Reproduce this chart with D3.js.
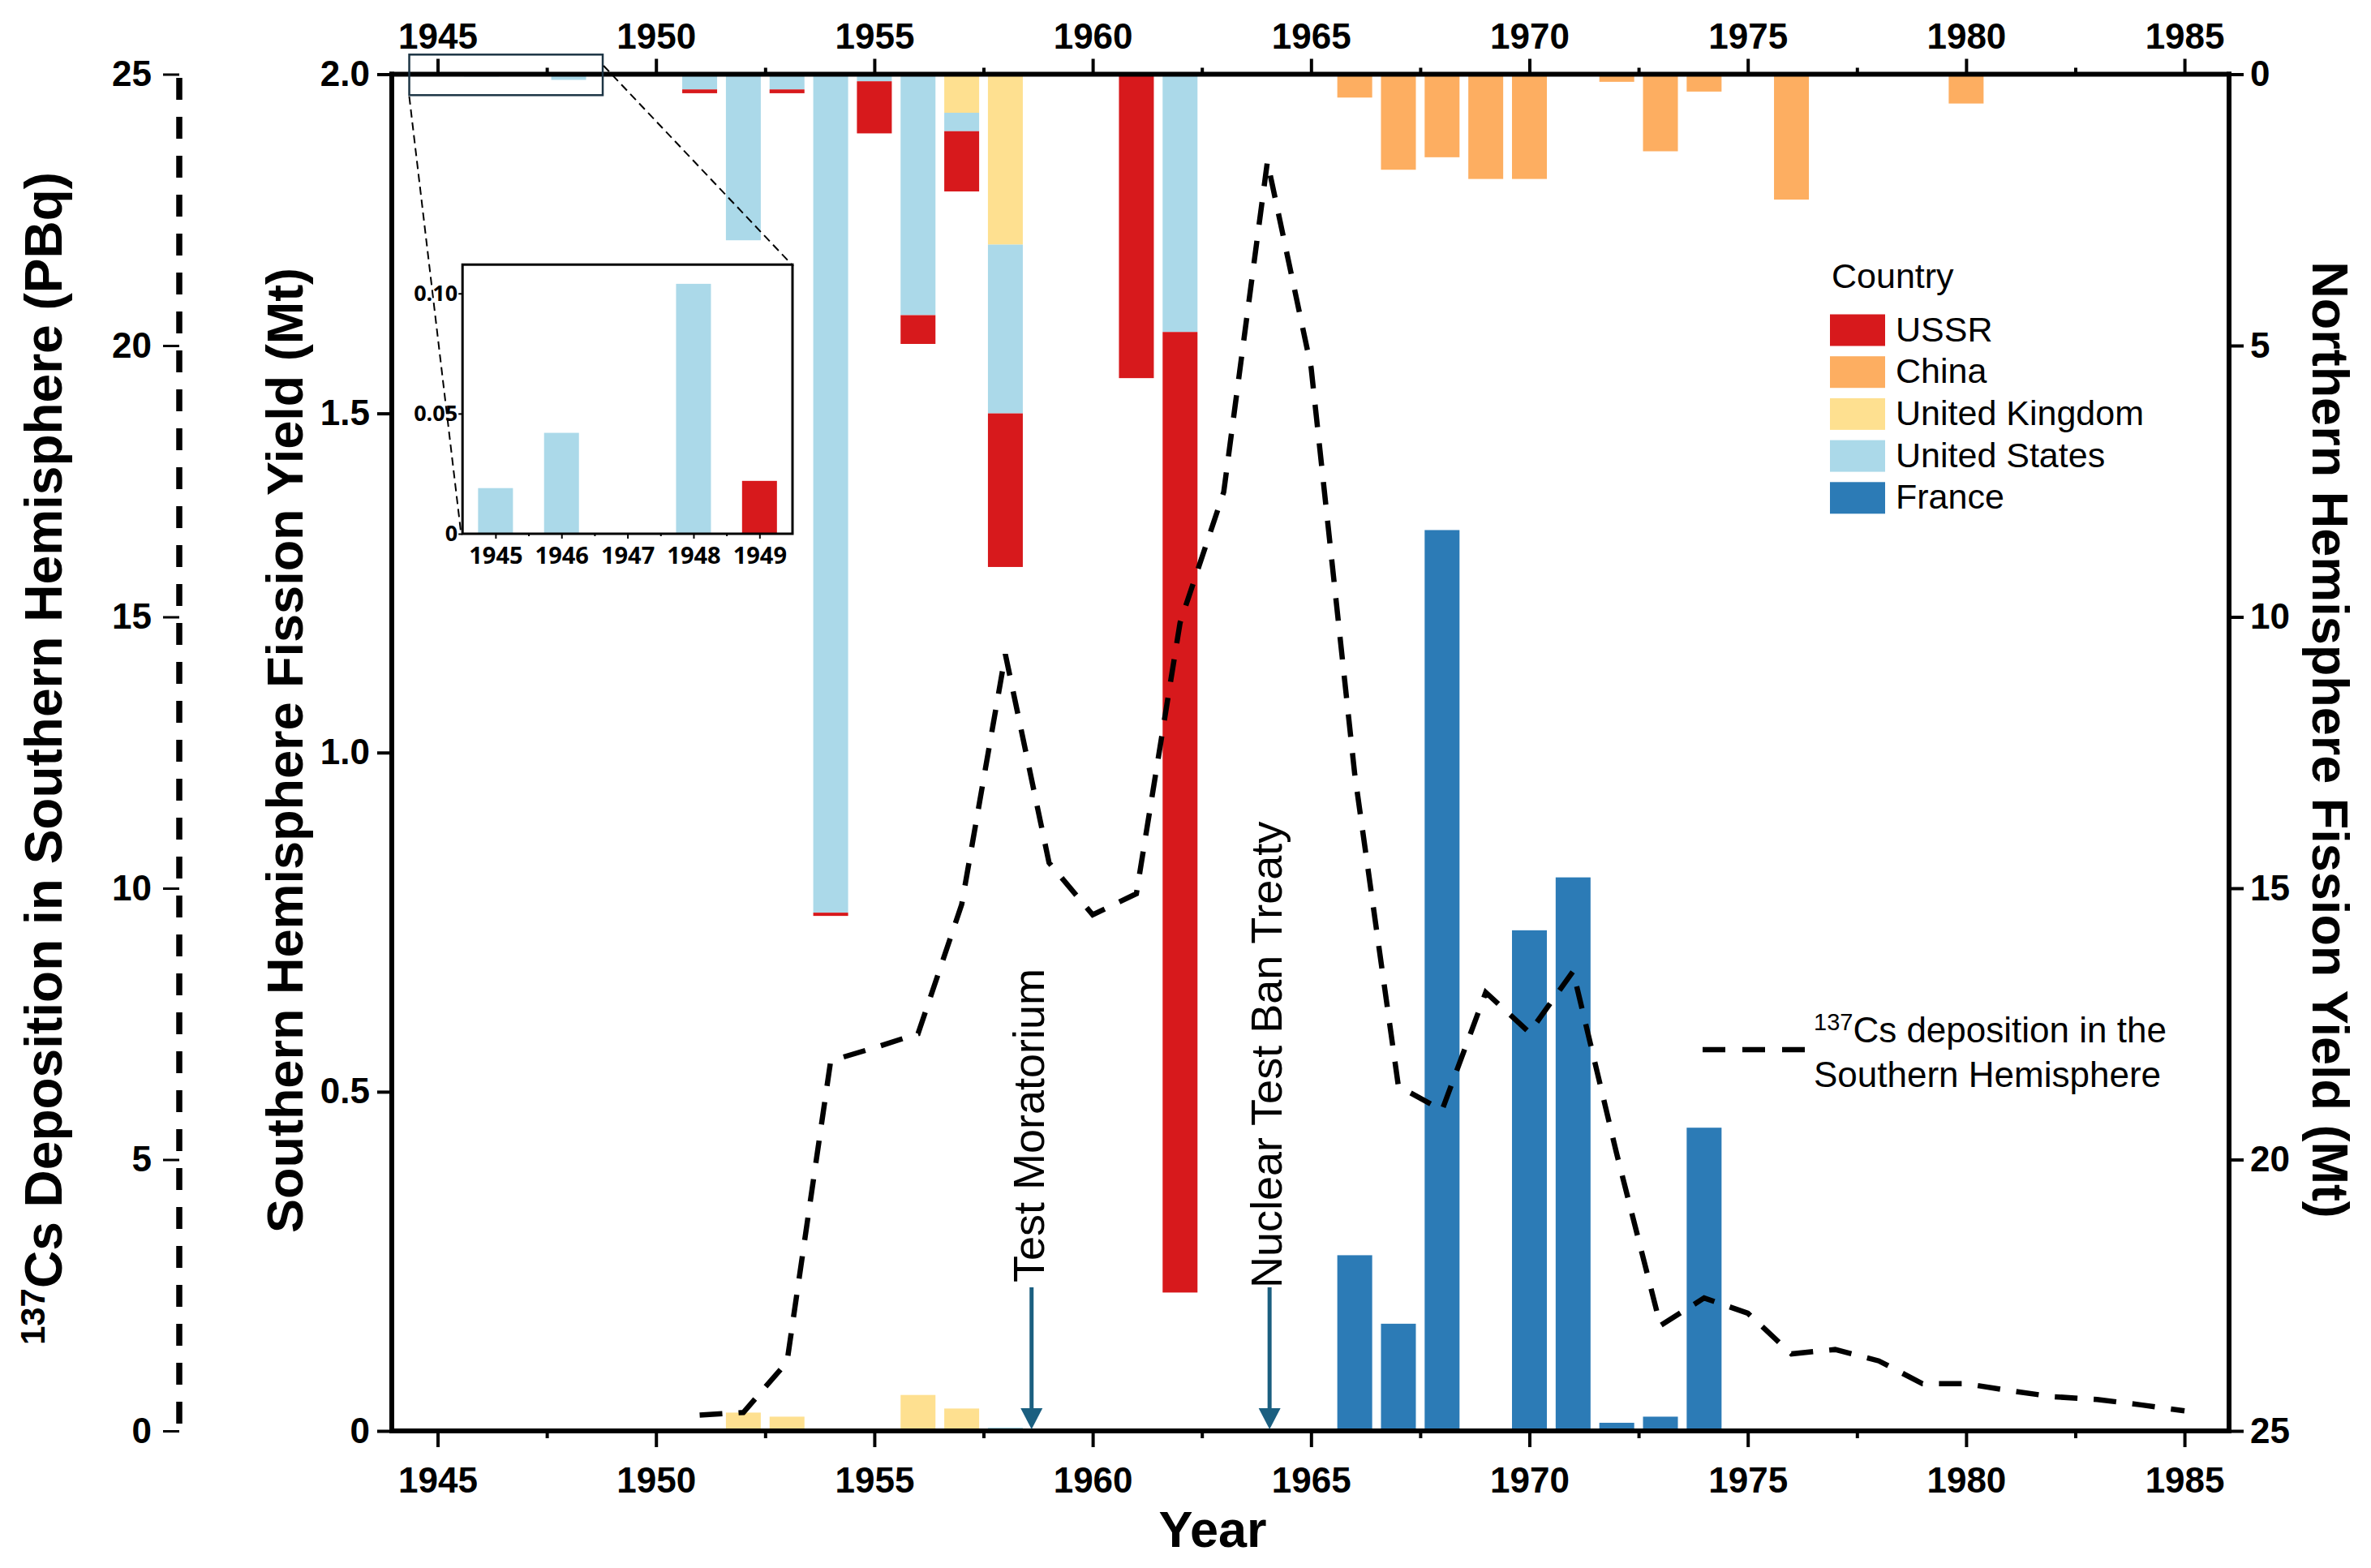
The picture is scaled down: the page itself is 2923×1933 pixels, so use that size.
<!DOCTYPE html>
<html><head><meta charset="utf-8">
<script src="https://cdn.jsdelivr.net/npm/d3@7"></script>
<style>html,body{margin:0;padding:0;background:#fff;} svg{display:block;}</style>
</head><body>
<svg id="chart" width="2923" height="1933"></svg>
<script>
// ---------------- DATA ----------------
const countries = ["USSR", "China", "United Kingdom", "United States", "France"];
const countryColors = ["#d7191c", "#fdae61", "#fee090", "#abd9e9", "#2c7bb6"];

// Northern hemisphere fission yield (Mt) per year
const northUK    = [[1957, 0.71], [1958, 3.14]];
const northUS    = [[1945, 0.019], [1946, 0.042], [1948, 0.104], [1951, 0.28], [1952, 3.06], [1953, 0.28],
                    [1954, 15.45], [1955, 0.13], [1956, 4.44], [1957, 0.34], [1958, 3.11], [1962, 4.75]];
const northUSSR  = [[1949, 0.022], [1951, 0.07], [1953, 0.07], [1954, 0.06], [1955, 0.96], [1956, 0.53],
                    [1957, 1.11], [1958, 2.83], [1961, 5.60], [1962, 17.7]];
const northChina = [[1966, 0.43], [1967, 1.76], [1968, 1.53], [1969, 1.93], [1970, 1.93], [1972, 0.14],
                    [1973, 1.42], [1974, 0.32], [1976, 2.31], [1980, 0.54]];

// Southern hemisphere fission yield (Mt) per year
const southUK     = [[1952, 0.027], [1953, 0.021], [1956, 0.053], [1957, 0.033]];
const southUS     = [[1958, 0.005]];
const southFrance = [[1966, 0.259], [1967, 0.158], [1968, 1.328], [1970, 0.738], [1971, 0.816],
                     [1972, 0.012], [1973, 0.021], [1974, 0.447]];

// 137Cs deposition in the Southern Hemisphere (PBq)
const csYears  = d3.range(1951, 1986);
const csValues = [0.29, 0.34, 1.27, 6.82, 7.06, 7.32, 9.70, 14.31, 10.47, 9.51, 9.90, 14.89, 17.3, 23.39,
                  19.6, 12.1, 6.35, 5.91, 8.08, 7.34, 8.47, 5.1, 1.94, 2.45, 2.17, 1.42, 1.50, 1.29, 0.87,
                  0.87, 0.74, 0.63, 0.58, 0.48, 0.37];

const yearTicks  = [1945, 1950, 1955, 1960, 1965, 1970, 1975, 1980, 1985];
const minorTicks = [1947.5, 1952.5, 1957.5, 1962.5, 1967.5, 1972.5, 1977.5, 1982.5];
const southTicks = [0, 0.5, 1.0, 1.5, 2.0];
const northTicks = [0, 5, 10, 15, 20, 25];
const pbqTicks   = [0, 5, 10, 15, 20, 25];
const insetYears = [1945, 1946, 1947, 1948, 1949];
const insetTicks = [0, 0.05, 0.10];
const events = [{label: "Test Moratorium", year: 1958.6}, {label: "Nuclear Test Ban Treaty", year: 1964.05}];

// ---------------- SETUP ----------------
const svg = d3.select("#chart");
const FONT = "'Liberation Sans', Arial, Helvetica, sans-serif";
const L = 483, R = 2748, T = 91.5, B = 1764;

const x = d3.scaleLinear().domain([1943.95, 1986.02]).range([L, R]);
const yS = d3.scaleLinear().domain([0, 2]).range([B, T]);      // southern Mt (left)
const yN = d3.scaleLinear().domain([0, 25]).range([T, B]);     // northern Mt (right, inverted)
const yP = d3.scaleLinear().domain([0, 25]).range([B, T]);     // PBq
const color = d3.scaleOrdinal().domain(countries).range(countryColors);
const barW = 43;

svg.append("rect").attr("width", 2923).attr("height", 1933).attr("fill", "#fff");

function buildTable(seriesMap, keys) {
  const ys = Array.from(new Set(keys.flatMap(k => seriesMap[k].map(d => d[0])))).sort();
  return ys.map(yr => {
    const row = {year: yr};
    keys.forEach(k => { const f = seriesMap[k].find(d => d[0] === yr); row[k] = f ? f[1] : 0; });
    return row;
  });
}

// North bars
const northKeys = ["United Kingdom", "United States", "USSR", "China"];
const northMap = {"United Kingdom": northUK, "United States": northUS, "USSR": northUSSR, "China": northChina};
const northStack = d3.stack().keys(northKeys)(buildTable(northMap, northKeys));
const gN = svg.append("g");
northStack.forEach(layer => {
  gN.selectAll(null).data(layer.filter(d => d[1] - d[0] > 0)).enter().append("rect")
    .attr("x", d => x(d.data.year) - barW / 2).attr("width", barW)
    .attr("y", d => yN(d[0])).attr("height", d => yN(d[1]) - yN(d[0]))
    .attr("fill", color(layer.key));
});

// South bars
const southKeys = ["United Kingdom", "United States", "France"];
const southMap = {"United Kingdom": southUK, "United States": southUS, "France": southFrance};
const southStack = d3.stack().keys(southKeys)(buildTable(southMap, southKeys));
const gS = svg.append("g");
southStack.forEach(layer => {
  gS.selectAll(null).data(layer.filter(d => d[1] - d[0] > 0)).enter().append("rect")
    .attr("x", d => x(d.data.year) - barW / 2).attr("width", barW)
    .attr("y", d => yS(d[1])).attr("height", d => yS(d[0]) - yS(d[1]))
    .attr("fill", color(layer.key));
});

// Cs curve
const csData = csYears.map((yr, i) => ({year: yr, v: csValues[i]}));
svg.append("path").datum(csData)
  .attr("d", d3.line().x(d => x(d.year)).y(d => yP(d.v)))
  .attr("fill", "none").attr("stroke", "#000").attr("stroke-width", 6.5)
  .attr("stroke-dasharray", "28,20");

// ---------------- AXES ----------------
function styleAxis(g, fs) {
  g.select(".domain").remove();
  g.selectAll(".tick line").attr("stroke", "#000").attr("stroke-width", 4);
  g.selectAll(".tick text").attr("font-family", FONT).attr("font-weight", "bold")
    .attr("font-size", fs).attr("fill", "#000");
}
// bottom
const gB = svg.append("g").attr("transform", `translate(0,${B})`)
  .call(d3.axisBottom(x).tickValues(yearTicks).tickFormat(d3.format("d")).tickSize(20).tickPadding(25));
styleAxis(gB, 44);
const gBm = svg.append("g").attr("transform", `translate(0,${B})`)
  .call(d3.axisBottom(x).tickValues(minorTicks).tickFormat("").tickSize(9));
styleAxis(gBm, 44);
// top
const gT = svg.append("g").attr("transform", `translate(0,${T})`)
  .call(d3.axisTop(x).tickValues(yearTicks).tickFormat(d3.format("d")).tickSize(19).tickPadding(13));
styleAxis(gT, 44);
const gTm = svg.append("g").attr("transform", `translate(0,${T})`)
  .call(d3.axisTop(x).tickValues(minorTicks).tickFormat("").tickSize(8));
styleAxis(gTm, 44);
// left (south Mt)
const gL = svg.append("g").attr("transform", `translate(${L},0)`)
  .call(d3.axisLeft(yS).tickValues(southTicks).tickFormat(d => d === 0 ? "0" : d3.format(".1f")(d)).tickSize(18).tickPadding(9));
styleAxis(gL, 44);
// right (north Mt)
const gR = svg.append("g").attr("transform", `translate(${R},0)`)
  .call(d3.axisRight(yN).tickValues(northTicks).tickFormat(d3.format("d")).tickSize(18).tickPadding(8));
styleAxis(gR, 44);
// PBq axis
const PX = 221;
const gP = svg.append("g").attr("transform", `translate(${PX},0)`)
  .call(d3.axisLeft(yP).tickValues(pbqTicks).tickFormat(d3.format("d")).tickSize(20).tickPadding(14));
styleAxis(gP, 44);
gP.selectAll(".tick line").attr("stroke-width", 3);
svg.append("line").attr("x1", PX).attr("x2", PX).attr("y1", B).attr("y2", T)
  .attr("stroke", "#000").attr("stroke-width", 7.5).attr("stroke-dasharray", "27,21")
  .attr("stroke-dashoffset", 39);

// frame lines
const frame = svg.append("g").attr("stroke", "#000").attr("stroke-width", 6).attr("stroke-linecap", "square");
frame.append("line").attr("x1", L).attr("x2", R).attr("y1", B).attr("y2", B);
frame.append("line").attr("x1", L).attr("x2", R).attr("y1", T).attr("y2", T);
frame.append("line").attr("x1", L).attr("x2", L).attr("y1", T).attr("y2", B);
frame.append("line").attr("x1", R).attr("x2", R).attr("y1", T).attr("y2", B);

// axis titles
svg.append("text").attr("transform", `translate(1495,1907)`).attr("text-anchor", "middle")
  .attr("font-family", FONT).attr("font-weight", "bold").attr("font-size", 63).text("Year");
svg.append("text").attr("transform", `translate(373,925) rotate(-90)`).attr("text-anchor", "middle")
  .attr("font-family", FONT).attr("font-weight", "bold").attr("font-size", 63)
  .text("Southern Hemisphere Fission Yield (Mt)");
svg.append("text").attr("transform", `translate(2851,912) rotate(90)`).attr("text-anchor", "middle")
  .attr("font-family", FONT).attr("font-weight", "bold").attr("font-size", 63)
  .text("Northern Hemisphere Fission Yield (Mt)");
const cs = svg.append("text").attr("transform", `translate(76,935) rotate(-90)`).attr("text-anchor", "middle")
  .attr("font-family", FONT).attr("font-weight", "bold").attr("font-size", 64);
cs.append("tspan").attr("font-size", 42).attr("dy", -21).text("137");
cs.append("tspan").attr("dy", 21).text("Cs Deposition in Southern Hemisphere (PBq)");

// event arrows
const arrowColor = "#1b5f80";
events.forEach((e, i) => {
  const ax = x(e.year), tip = yS(0) - 2, top = 1587;
  svg.append("line").attr("x1", ax).attr("x2", ax).attr("y1", top).attr("y2", tip - 20)
    .attr("stroke", arrowColor).attr("stroke-width", 5);
  const p = d3.path(); p.moveTo(ax - 13.5, tip - 26); p.lineTo(ax + 13.5, tip - 26); p.lineTo(ax, tip); p.closePath();
  svg.append("path").attr("d", p.toString()).attr("fill", arrowColor);
  svg.append("text").attr("transform", `translate(${ax + 15},${i === 0 ? 1581 : 1588}) rotate(-90)`)
    .attr("font-family", FONT).attr("font-size", 54).attr("fill", "#000").text(e.label);
});

// legend
const lg = svg.append("g").attr("font-family", FONT);
lg.append("text").attr("x", 2258).attr("y", 355).attr("font-size", 43).text("Country");
countries.forEach((c, i) => {
  const yy = 387.5 + i * 51.7;
  lg.append("rect").attr("x", 2256).attr("y", yy).attr("width", 68).attr("height", 39).attr("fill", color(c));
  lg.append("text").attr("x", 2337).attr("y", yy + 19.5 + 13.5).attr("font-size", 43).text(c);
});

// Cs line legend
svg.append("line").attr("x1", 2099).attr("x2", 2226).attr("y1", 1294).attr("y2", 1294)
  .attr("stroke", "#000").attr("stroke-width", 6.5).attr("stroke-dasharray", "28,21");
const cl = svg.append("text").attr("x", 2236).attr("y", 1285).attr("font-family", FONT).attr("font-size", 44);
cl.append("tspan").attr("font-size", 29).attr("dy", -15).text("137");
cl.append("tspan").attr("dy", 15).text("Cs deposition in the");
svg.append("text").attr("x", 2236).attr("y", 1339.5).attr("font-family", FONT).attr("font-size", 44)
  .text("Southern Hemisphere");

// ---------------- INSET ----------------
const IL = 570.2, IR = 977, IT = 326.2, IB = 658;
const xi = d3.scaleLinear().domain([1944.5, 1949.5]).range([IL, IR]);
const yi = d3.scaleLinear().domain([0, 0.112]).range([IB, IT]);
const insetData = [];
northStack.forEach(layer => layer.forEach(d => {
  if (d.data.year < 1950 && d[1] - d[0] > 0) insetData.push({year: d.data.year, y0: d[0], y1: d[1], key: layer.key});
}));
// zoom rectangle on main plot
svg.append("rect").attr("x", x(1944.35)).attr("y", 67.3).attr("width", x(1948.78) - x(1944.35)).attr("height", 50)
  .attr("fill", "none").attr("stroke", "#1d3545").attr("stroke-width", 2.5);
svg.append("line").attr("x1", x(1944.35)).attr("y1", 119).attr("x2", IL - 2).attr("y2", IB - 2)
  .attr("stroke", "#000").attr("stroke-width", 2).attr("stroke-dasharray", "10,6");
svg.append("line").attr("x1", x(1948.78) + 1).attr("y1", 81).attr("x2", IR + 1).attr("y2", IT + 2)
  .attr("stroke", "#000").attr("stroke-width", 2).attr("stroke-dasharray", "10,6");
svg.append("rect").attr("x", IL).attr("y", IT).attr("width", IR - IL).attr("height", IB - IT).attr("fill", "#fff");
svg.append("g").selectAll("rect").data(insetData).enter().append("rect")
  .attr("x", d => xi(d.year) - 21.5).attr("width", 43)
  .attr("y", d => yi(d.y1)).attr("height", d => yi(d.y0) - yi(d.y1))
  .attr("fill", d => color(d.key));
const IFONT = "'Open Sans', 'Liberation Sans', Arial, sans-serif";
const gix = svg.append("g").attr("transform", `translate(0,${IB})`)
  .call(d3.axisBottom(xi).tickValues(insetYears).tickFormat(d3.format("d")).tickSize(6).tickPadding(10));
gix.select(".domain").remove();
gix.selectAll(".tick line").attr("stroke", "#000").attr("stroke-width", 2);
gix.selectAll(".tick text").attr("font-family", IFONT).attr("font-weight", "bold").attr("font-size", 29).attr("fill", "#000");
const gixm = svg.append("g").attr("transform", `translate(0,${IB})`)
  .call(d3.axisBottom(xi).tickValues([1945.5, 1946.5, 1947.5, 1948.5]).tickFormat("").tickSize(3));
gixm.select(".domain").remove();
gixm.selectAll(".tick line").attr("stroke", "#000").attr("stroke-width", 2);
const giy = svg.append("g").attr("transform", `translate(${IL},0)`)
  .call(d3.axisLeft(yi).tickValues(insetTicks).tickFormat(d => d === 0 ? "0" : d3.format(".2f")(d)).tickSize(5).tickPadding(1));
giy.select(".domain").remove();
giy.selectAll(".tick line").attr("stroke", "#000").attr("stroke-width", 2);
giy.selectAll(".tick text").attr("font-family", IFONT).attr("font-weight", "bold").attr("font-size", 27).attr("fill", "#000");
svg.append("rect").attr("x", IL).attr("y", IT).attr("width", IR - IL).attr("height", IB - IT)
  .attr("fill", "none").attr("stroke", "#000").attr("stroke-width", 3);
</script>
</body></html>
